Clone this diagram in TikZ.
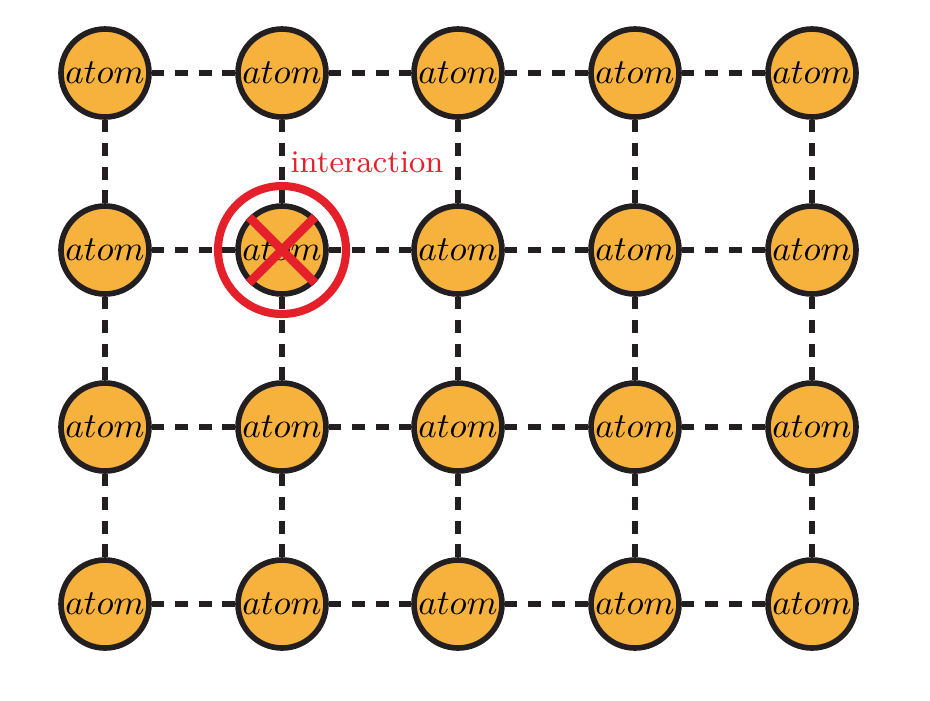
\documentclass[tikz,border=0pt]{standalone}
\usepackage{tikz}
\definecolor{atomfill}{HTML}{F6B23C}
\definecolor{linkblack}{HTML}{231F20}
\definecolor{hitred}{HTML}{E6202B}

\begin{document}
\begin{tikzpicture}[
		atom/.style={circle, draw=linkblack, fill=atomfill, line width=1.6pt, minimum size=0.88cm, inner sep=0pt},
		link/.style={draw=linkblack, line width=1.6pt, dash pattern=on 3.6pt off 3.1pt},
		hit/.style={draw=hitred, line width=2.3pt}]
		%%%%% START %%%%%
		\useasboundingbox (0,0) rectangle (9.3,7);
		
		\foreach \i/\x in {1/1.05,2/2.82,3/4.58,4/6.35,5/8.12}
		\foreach \j/\y in {1/6.27,2/4.50,3/2.73,4/0.96}
		\node[atom] (a\i\j) at (\x,\y) {$atom$};
		
		\foreach \i/\k in {1/2,2/3,3/4,4/5}
		\foreach \j in {1,2,3,4}
		\draw[link] (a\i\j) -- (a\k\j);
		
		\foreach \j/\k in {1/2,2/3,3/4}
		\foreach \i in {1,2,3,4,5}
		\draw[link] (a\i\j) -- (a\i\k);
		
		\draw[hit] (a22) circle (0.64);
		\draw[hit, line width=2.5pt] (a22.north west) -- (a22.south east);
		\draw[hit, line width=2.5pt] (a22.north east) -- (a22.south west);
		\node[text=hitred, font=\small] (lbl) at (3.67,5.38) {interaction};
		
		%%%%% END %%%%%
	\end{tikzpicture}
\end{document}
